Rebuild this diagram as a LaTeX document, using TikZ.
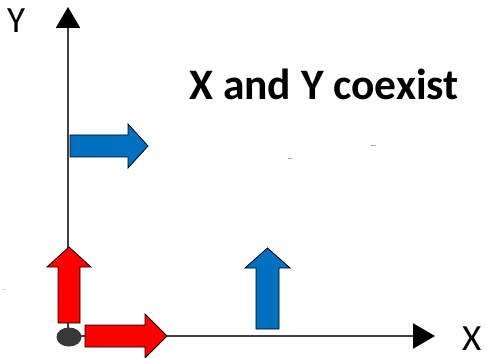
\documentclass[tikz,border=0pt]{standalone}
\usepackage{fontspec}
\newfontfamily\carlito{Carlito}
\usetikzlibrary{arrows.meta,shapes.geometric}
\definecolor{arrowred}{HTML}{FF0000}
\definecolor{arrowblue}{HTML}{0070C0}
\definecolor{axisgray}{HTML}{404040}
\definecolor{dotgray}{HTML}{383838}
\begin{document}
\begin{tikzpicture}[x=1pt,y=-1pt,
  axis/.style={draw=axisgray,line width=2.2pt},
  blockarrow/.style={draw=black,line width=0.8pt,line join=miter},
  redarrow/.style={blockarrow,fill=arrowred},
  bluearrow/.style={blockarrow,fill=arrowblue},
  axislabel/.style={font=\carlito\fontsize{37}{37}\selectfont,inner sep=0,anchor=base west},
  speck/.style={draw=gray!70,line width=0.9pt}]
\useasboundingbox (0,0) rectangle (487,358);
\fill[white] (0,0) rectangle (487,358);

% origin and axis ends
\coordinate (O) at (68,336);
\coordinate (ytip) at (68,7);
\coordinate (xtip) at (435,336);

% axes
\draw[axis,-{Triangle[length=21pt,width=24pt,color=black]}] (O) -- (ytip);
\draw[axis,-{Triangle[length=22pt,width=25pt,color=black]}] (O) -- (xtip);

% origin blob
\node (origin) [ellipse,fill=dotgray,draw=none,minimum width=25pt,minimum height=19pt,inner sep=0pt] at (69,337) {};

% red unit vectors at the origin
\draw[redarrow] (58,323) -- (58,267) -- (47,267) -- (69,247) -- (91,267) -- (80,267) -- (80,323) -- cycle;
\draw[redarrow] (85,325) -- (145,325) -- (145,314) -- (167,336) -- (145,358) -- (145,347) -- (85,347) -- cycle;

% blue arrows along the axes
\draw[bluearrow] (70,135) -- (128,135) -- (128,124) -- (148,146) -- (128,168) -- (128,157) -- (70,157) -- cycle;
\draw[bluearrow] (256,329) -- (256,268) -- (245,268) -- (267.5,248) -- (290,268) -- (279,268) -- (279,329) -- cycle;

% labels
\node (title) [font=\carlito\bfseries\fontsize{43.5}{43.5}\selectfont,inner sep=0pt,anchor=base west] at (189,100) {X and Y coexist};
\node (ylabel) [axislabel] at (7,33) {Y};
\node (xlabel) [axislabel] at (462,350) {X};

% small specks
\draw[speck] (371,145) -- (376,145);
\draw[speck] (288,158) -- (292,158);
\draw[speck,draw=gray!35] (3,289) -- (6,289);
\end{tikzpicture}
\end{document}
